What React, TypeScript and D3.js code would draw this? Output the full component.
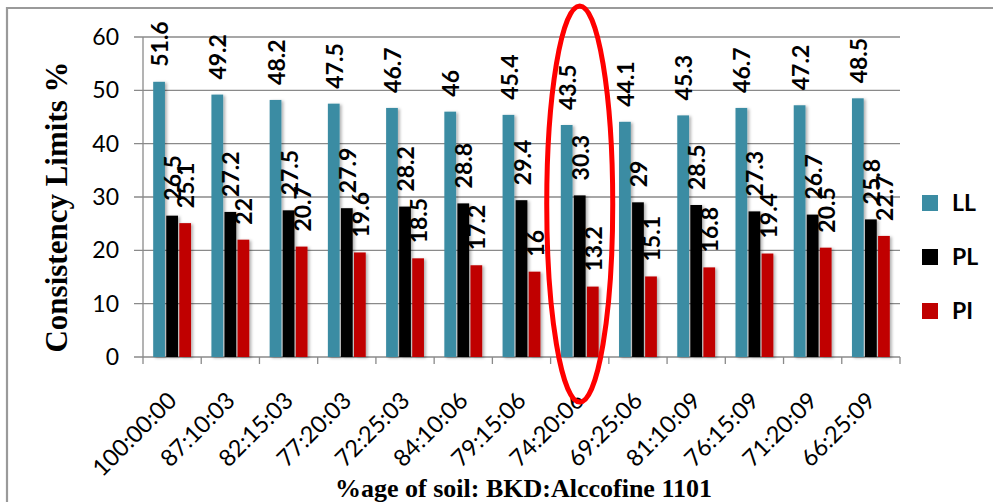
import React from "react";
import * as d3 from "d3";

const categories = [
  "100:00:00", "87:10:03", "82:15:03", "77:20:03", "72:25:03", "84:10:06",
  "79:15:06", "74:20:06", "69:25:06", "81:10:09", "76:15:09", "71:20:09", "66:25:09",
];
const seriesNames = ["LL", "PL", "PI"];
const llValues = [51.6, 49.2, 48.2, 47.5, 46.7, 46, 45.4, 43.5, 44.1, 45.3, 46.7, 47.2, 48.5];
const plValues = [26.5, 27.2, 27.5, 27.9, 28.2, 28.8, 29.4, 30.3, 29, 28.5, 27.3, 26.7, 25.8];
const piValues = [25.1, 22, 20.7, 19.6, 18.5, 17.2, 16, 13.2, 15.1, 16.8, 19.4, 20.5, 22.7];
const yTicks = [0, 10, 20, 30, 40, 50, 60];
const highlightCategory = "74:20:06";

const colors: Record<string, string> = { LL: "#3B8CA3", PL: "#000000", PI: "#C00000" };

export default function App() {
  const W = 993, H = 502;
  const left = 143, right = 900, top = 37, bottom = 357;
  const seriesValues: Record<string, number[]> = { LL: llValues, PL: plValues, PI: piValues };

  const x0 = d3.scaleBand<string>().domain(categories).range([left, right]).paddingInner(0.35).paddingOuter(0.175);
  const x1 = d3.scaleBand<string>().domain(seriesNames).range([0, x0.bandwidth()]).paddingInner(0.1);
  const y = d3.scaleLinear().domain([0, 60]).range([bottom, top]);
  const step = x0.step();
  const boundaries = d3.range(categories.length + 1).map((i) => left + i * step);

  const hx = (x0(highlightCategory) as number) + x0.bandwidth() / 2;

  return (
    <svg width={W} height={H} style={{ position: "absolute", left: 0, top: 0, background: "#fff" }}
      fontFamily="Lato, 'Open Sans', sans-serif">
      <defs>
        <filter id="sh" x="-50%" y="-10%" width="200%" height="120%">
          <feDropShadow dx="2" dy="1" stdDeviation="1.5" floodColor="#000" floodOpacity="0.3" />
        </filter>
      </defs>
      <rect x={0} y={0} width={W} height={H} fill="#fff" />
      {/* outer border */}
      <path d={`M7,${H + 5} L7,8 L${W + 5},8`} fill="none" stroke="#9a9a9a" strokeWidth={2.2} />

      {/* gridlines */}
      {yTicks.map((t) => (
        <line key={"g" + t} x1={left - 9} x2={right} y1={y(t)} y2={y(t)} stroke="#8a8a8a" strokeWidth={1.3} />
      ))}
      {/* y axis */}
      <line x1={left} x2={left} y1={top} y2={bottom} stroke="#8a8a8a" strokeWidth={1.3} />
      {/* x ticks */}
      {boundaries.map((bx, i) => (
        <line key={"xt" + i} x1={bx} x2={bx} y1={bottom} y2={bottom + 7} stroke="#8a8a8a" strokeWidth={1.3} />
      ))}
      {/* y tick labels */}
      {yTicks.map((t) => (
        <text key={"yl" + t} x={119} y={y(t)} dy="0.35em" textAnchor="end" fontSize={23} fill="#000">{t}</text>
      ))}

      {/* bars */}
      {categories.map((c, i) => (
        <g key={c} transform={`translate(${x0(c)},0)`}>
          {seriesNames.map((s) => {
            const v = seriesValues[s][i];
            return (
              <rect key={s} x={x1(s)} y={y(v)} width={x1.bandwidth()} height={bottom - y(v)}
                fill={colors[s]} filter="url(#sh)" />
            );
          })}
        </g>
      ))}
      {/* data labels */}
      {categories.map((c, i) => (
        <g key={"l" + c} transform={`translate(${x0(c)},0)`}>
          {seriesNames.map((s) => {
            const v = seriesValues[s][i];
            const cx = (x1(s) as number) + x1.bandwidth() / 2 + 1;
            const cy = y(v) - 15;
            return (
              <text key={s} transform={`translate(${cx},${cy}) rotate(-90)`} dy="0.35em"
                fontSize={23} fontWeight="bold" fill="#000">{v}</text>
            );
          })}
        </g>
      ))}

      {/* x labels */}
      {categories.map((c) => {
        const cx = (x0(c) as number) + x0.bandwidth() / 2;
        return (
          <text key={"xl" + c} transform={`translate(${cx + 6},${bottom + 45}) rotate(-45)`}
            textAnchor="end" fontSize={23.5} fill="#000">{c}</text>
        );
      })}

      {/* axis titles */}
      <text x={(left + right) / 2 + 2} y={497} textAnchor="middle" fontFamily="'Liberation Serif', 'Times New Roman', serif"
        fontWeight="bold" fontSize={26} fill="#000">%age of soil: BKD:Alccofine 1101</text>
      <text transform={`translate(67,${(top + bottom) / 2 + 10}) rotate(-90)`} textAnchor="middle"
        fontFamily="'Liberation Serif', 'Times New Roman', serif" fontWeight="bold" fontSize={31} fill="#000">
        Consistency Limits %
      </text>

      {/* legend */}
      {seriesNames.map((s, i) => {
        const ly = 203 + i * 54;
        return (
          <g key={"lg" + s}>
            <rect x={922} y={ly - 8} width={16} height={16} fill={colors[s]} />
            <text x={952} y={ly} dy="0.36em" fontSize={23} fontWeight="bold" fill="#000">{s}</text>
          </g>
        );
      })}

      {/* highlight ellipse */}
      <ellipse cx={hx} cy={204} rx={33} ry={198} fill="none" stroke="#FF0000" strokeWidth={5} />
    </svg>
  );
}
